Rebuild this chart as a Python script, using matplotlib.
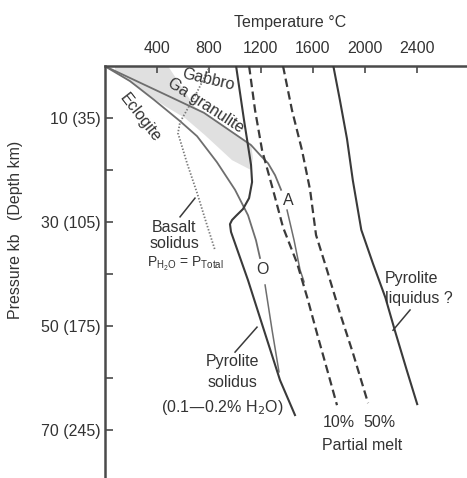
import matplotlib
matplotlib.use('Agg')
import matplotlib.pyplot as plt

plt.rcParams['font.family'] = ['Liberation Sans', 'DejaVu Sans']
plt.rcParams['font.size'] = 11.5

# Temperature (deg C) / pressure (kb) traces
liquidus_t = [1760, 1810, 1865, 1910, 1975, 2065, 2160, 2235, 2325, 2405]
liquidus_p = [0, 6.5, 14, 22, 31.5, 38, 44.5, 51, 58.5, 65]

melt50_t = [1373, 1442, 1519, 1581, 1627, 1711, 1811, 1911, 2027]
melt50_p = [0, 8.5, 16.2, 23.8, 32.5, 39.2, 47.5, 55.2, 64.8]

melt10_t = [1112, 1158, 1212, 1296, 1373, 1481, 1558, 1642, 1735, 1788]
melt10_p = [0, 8.5, 16.2, 23.8, 31, 37.9, 44.4, 52.1, 60.4, 65.2]

solidus_t = [1012, 1073, 1127, 1135, 1112, 1065, 1012, 981, 965, 973, 1104, 1219, 1350, 1465]
solidus_p = [0, 10.4, 19, 22.3, 25.4, 27.5, 28.8, 29.6, 30.4, 31.9, 41.2, 50.2, 60.4, 67.1]

# gabbro / garnet granulite boundary, continuing as curve A
curve_a_t = [0, 196, 511, 765, 1127, 1196, 1258, 1312, 1358]
curve_a_p = [0, 2.3, 6.0, 9.0, 15.2, 17.1, 18.7, 21, 23.8]
curve_a2_t = [1404, 1458, 1504, 1535]
curve_a2_p = [27.7, 33.5, 39.2, 41.5]

# garnet granulite / eclogite boundary, continuing as curve O
curve_o_t = [0, 196, 381, 581, 712, 865, 1004, 1104, 1165, 1196]
curve_o_p = [0, 2.9, 6.5, 10.6, 13.5, 18.5, 23.8, 28.7, 33.5, 36.9]
curve_o2_t = [1235, 1289, 1342]
curve_o2_p = [42.1, 50.8, 58.8]

basalt_t = [812, 712, 642, 581, 565, 635, 712, 781, 850]
basalt_p = [0, 5, 8.1, 10.8, 12.9, 18.7, 24.4, 30, 35.4]

granulite_t = [81, 488, 696, 1127, 1142, 1127, 981, 773, 619, 465, 350, 196, 81]
granulite_p = [0, 0, 7.9, 15, 17.7, 20, 18.1, 13.3, 10, 7.7, 5.8, 3.1, 1.2]

temp_ticks = [400, 800, 1200, 1600, 2000, 2400]
press_ticks = [10, 30, 50, 70]
press_labels = ['10 (35)', '30 (105)', '50 (175)', '70 (245)']
press_minor = [20, 40, 60]

ink = '#3a3a3a'
thin = '#6e6e6e'
dash = (0, (3.8, 2.0))

fig = plt.figure(figsize=(4.67, 4.78), dpi=100)
ax = fig.add_axes([104.5 / 467, 0, (467 - 104.5) / 467, (478 - 66) / 478])
ax.set_xlim(0, 2788)
ax.set_ylim(79.2, 0)

ax.fill(granulite_t, granulite_p, color='#e0e0e0', lw=0, zorder=1)

ax.plot(liquidus_t, liquidus_p, color=ink, lw=1.5, zorder=3)
ax.plot(melt50_t, melt50_p, color=ink, lw=1.6, ls=dash, zorder=3)
ax.plot(melt10_t, melt10_p, color=ink, lw=1.6, ls=dash, zorder=3)
ax.plot(solidus_t, solidus_p, color=ink, lw=1.5, zorder=3)
ax.plot(curve_a_t, curve_a_p, color=thin, lw=1.3, zorder=2)
ax.plot(curve_a2_t, curve_a2_p, color=thin, lw=1.1, zorder=2)
ax.plot(curve_o_t, curve_o_p, color=thin, lw=1.3, zorder=2)
ax.plot(curve_o2_t, curve_o2_p, color=thin, lw=1.1, zorder=2)
ax.plot(basalt_t, basalt_p, color='#7a7a7a', lw=1.3, ls=(0, (0.8, 1.0)), zorder=2)

# axes styling
for side in ['right', 'bottom']:
    ax.spines[side].set_visible(False)
for side in ['top', 'left']:
    ax.spines[side].set_linewidth(1.8)
    ax.spines[side].set_color('#4a4a4a')

ax.xaxis.set_ticks_position('top')
ax.xaxis.set_label_position('top')
ax.set_xticks(temp_ticks)
ax.set_yticks(press_ticks)
ax.set_yticklabels(press_labels)
ax.set_yticks(press_minor, minor=True)
ax.tick_params(axis='x', direction='in', length=5, width=1.2, pad=7, colors='#4a4a4a', labelcolor='#333333')
ax.tick_params(axis='y', which='both', direction='in', length=6, width=1.2, pad=3, colors='#4a4a4a',
               labelcolor='#333333')
ax.set_xlabel('Temperature °C', color='#333333')
ax.xaxis.set_label_coords((290 - 104.5) / (467 - 104.5), 1 + (66 - 27) / 412)
ax.set_ylabel('Pressure kb   (Depth km)', color='#333333')
ax.yaxis.set_label_coords((23 - 104.5) / (467 - 104.5), 1 - (230 - 66) / 412)

# field and curve labels
txt = dict(color='#333333', ha='center', va='center', zorder=4)
ax.text(796, 2.6, 'Gabbro', rotation=-13, **txt)
ax.text(780, 7.6, 'Ga granulite', rotation=-33, **txt)
ax.text(273, 10, 'Eclogite', rotation=-52, **txt)
ax.text(1412, 25.8, 'A', **txt)
ax.text(1212, 39.2, 'O', **txt)
ax.text(535, 31.0, 'Basalt', **txt)
ax.text(535, 34.1, 'solidus', **txt)
ax.text(620, 38.0, r'P$_{\mathregular{H_2O}}$ = P$_{\mathregular{Total}}$', fontsize=10, **txt)
ax.text(988, 56.9, 'Pyrolite', **txt)
ax.text(988, 60.8, 'solidus', **txt)
ax.text(904, 65.6, '(0.1—0.2% H$_2$O)', **txt)
ax.text(2158, 40.8, 'Pyrolite', color='#333333', ha='left', va='center')
ax.text(2158, 44.6, 'liquidus ?', color='#333333', ha='left', va='center')
ax.text(1804, 68.5, '10%', **txt)
ax.text(2112, 68.5, '50%', **txt)
ax.text(1981, 72.9, 'Partial melt', **txt)

# leader lines from labels to curves
ax.plot([581, 696], [29, 25.4], color=ink, lw=1.1)
ax.plot([1004, 1173], [55, 50.2], color=ink, lw=1.1)
ax.plot([2350, 2219], [46.9, 50.8], color=ink, lw=1.1)

fig.savefig('out.png', dpi=100)
